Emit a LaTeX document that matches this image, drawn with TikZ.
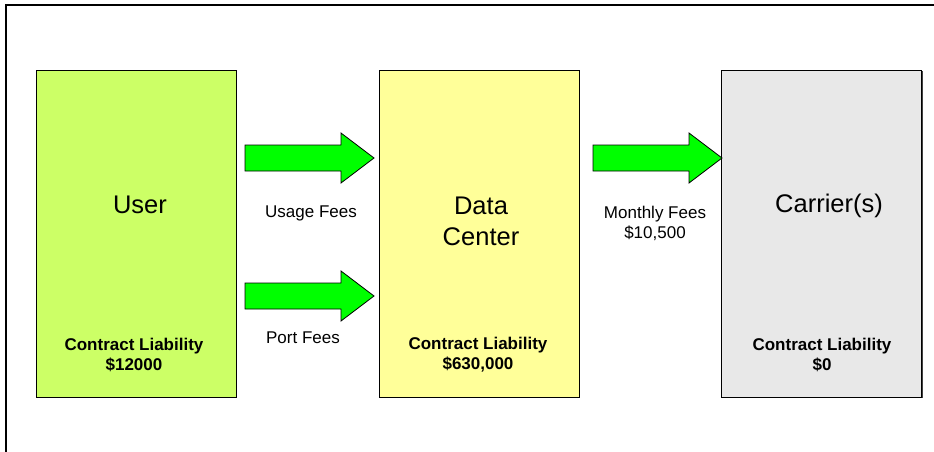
\documentclass[tikz,border=0pt]{standalone}
\usepackage{fontspec}
\setmainfont{Liberation Sans}
\usetikzlibrary{shadows}
\definecolor{userfill}{HTML}{CCFF66}
\definecolor{dcfill}{HTML}{FFFF99}
\definecolor{carrierfill}{HTML}{E8E8E8}
\definecolor{feegreen}{HTML}{00FF00}
\tikzset{
  party/.style={draw=black, line width=0.8pt, minimum width=200pt, minimum height=327pt,
    inner sep=0pt, drop shadow={shadow xshift=1.2pt, shadow yshift=-1.2pt, fill=black!75, opacity=1}},
  bigtext/.style={font=\fontsize{25.5}{31}\selectfont, align=center, inner sep=0pt},
  smalltext/.style={font=\fontsize{17}{20}\selectfont, align=center, inner sep=0pt},
  liability/.style={font=\bfseries\fontsize{17}{20}\selectfont, align=center, inner sep=0pt},
  fee arrow/.pic={
    \draw[fill=feegreen, draw=black, line width=0.8pt, line join=miter]
      (0,-13) -- (96,-13) -- (96,-25) -- (129,0) -- (96,25) -- (96,13) -- (0,13) -- cycle;
  }
}
\begin{document}
\begin{tikzpicture}[x=1pt, y=-1pt]
  \useasboundingbox (0,0) rectangle (934,452);
  % outer frame (only top and left edges fall inside the page)
  \draw[line width=2pt, line cap=rect] (6,452) -- (6,5) -- (934,5);

  % the three parties
  \node[party, fill=userfill]    (user)    at (136,233.5) {};
  \node[party, fill=dcfill]      (dc)      at (479,233.5) {};
  \node[party, fill=carrierfill] (carrier) at (821.5,233.5) {};

  \node[bigtext] (userlbl)    at (140,205)   {User};
  \node[bigtext] (dclbl)      at (481,221)   {Data\\Center};
  \node[bigtext] (carrierlbl) at (829,206)   {Carrier(s)};

  \node[liability] (userliab)    at (134,355)   {Contract Liability\\\$12000};
  \node[liability] (dcliab)      at (478,355)   {Contract Liability\\\$630,000};
  \node[liability] (carrierliab) at (822,355)   {Contract Liability\\\$0};

  % fee flows
  \pic at (245,158) {fee arrow};
  \pic at (245,296) {fee arrow};
  \pic at (593,158) {fee arrow};

  \node[smalltext] (usage)   at (311,213) {Usage Fees};
  \node[smalltext] (port)    at (303,338) {Port Fees};
  \node[smalltext] (monthly) at (655,223) {Monthly Fees\\\$10,500};
\end{tikzpicture}
\end{document}
